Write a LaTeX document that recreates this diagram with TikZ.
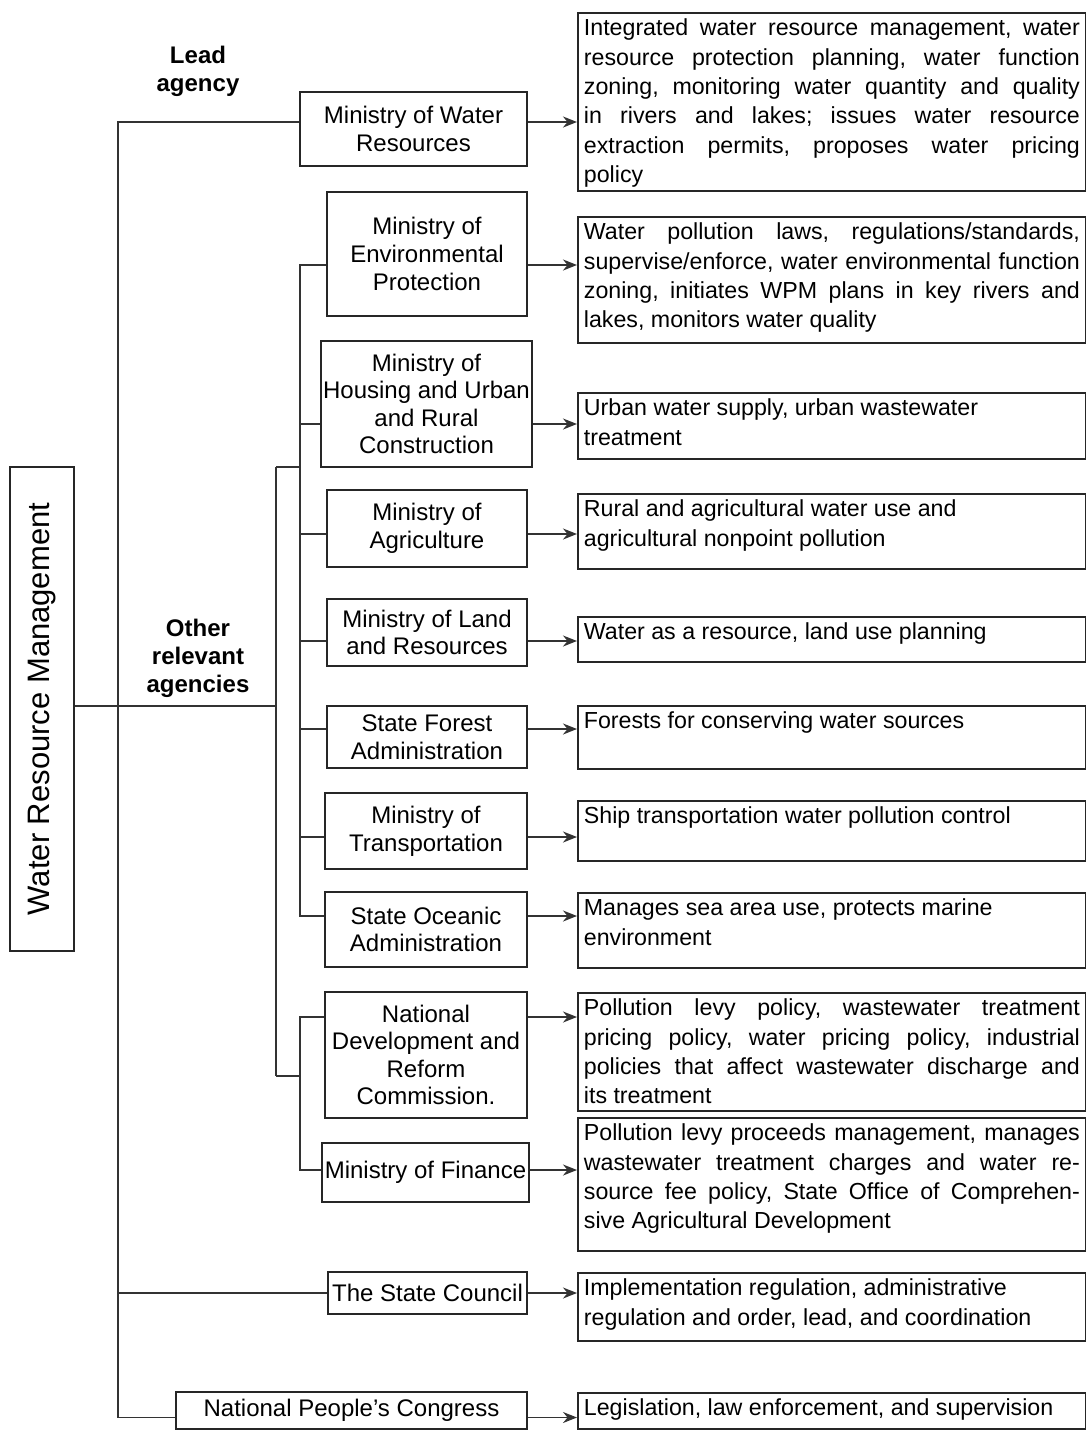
\documentclass[tikz,border=0pt]{standalone}
\usepackage{fontspec}
\setmainfont{Liberation Sans}
\usetikzlibrary{arrows.meta}
\frenchspacing
\tikzstyle{agency} = [rectangle, draw=black!85, line width=0.9pt, align=center, inner sep=1pt, font=\fontsize{12}{13.8}\selectfont]
\tikzstyle{duty} = [rectangle, draw=black!85, line width=0.9pt, anchor=north west, inner sep=3pt, font=\fontsize{11.6}{14.7}\selectfont]
\tikzstyle{group} = [draw=none, align=center, font=\fontsize{12}{14}\selectfont\bfseries]
\tikzstyle{link} = [draw=black!80, line width=0.9pt]
\newcommand{\dutytext}[2]{\parbox[t][#1][t]{248pt}{#2}}

\begin{document}
\begin{tikzpicture}[x=0.5pt,y=-0.5pt,>={Stealth[length=7pt,width=5.5pt]}]
  \useasboundingbox (0,0) rectangle (1086,1430);
  \node[agency, rotate=90, minimum width=242pt, minimum height=32pt, font=\fontsize{15.5}{18}\selectfont] (wrm) at (42,709) {Water Resource Management};
  \node[group] (lead) at (198,71) {Lead\\agency};
  \node[group] (other) at (198,658) {Other\\relevant\\agencies};

  % agencies
  \node[agency, minimum width=113.5pt, minimum height=37pt] (mwr) at (413.5,129) {Ministry of Water\\Resources};
  \node[agency, minimum width=100pt, minimum height=62pt] (mep) at (427,254) {Ministry of\\Environmental\\Protection};
  \node[agency, minimum width=104.5pt, minimum height=63pt] (mhurc) at (426.5,404) {Ministry of\\Housing and Urban\\and Rural\\Construction};
  \node[agency, minimum width=100pt, minimum height=38.5pt] (moa) at (427,528.5) {Ministry of\\Agriculture};
  \node[agency, minimum width=100pt, minimum height=33.5pt] (mlr) at (427,632.5) {Ministry of Land\\and Resources};
  \node[agency, minimum width=100pt, minimum height=31pt] (sfa) at (427,737) {State Forest\\Administration};
  \node[agency, minimum width=101pt, minimum height=38pt] (mot) at (426,831) {Ministry of\\Transportation};
  \node[agency, minimum width=101pt, minimum height=37.5pt] (soa) at (426,929.5) {State Oceanic\\Administration};
  \node[agency, minimum width=101pt, minimum height=63pt] (ndrc) at (426,1055) {National\\Development and\\Reform\\Commission.};
  \node[agency, minimum width=103.5pt, minimum height=29.5pt] (mof) at (425.5,1172.5) {Ministry of Finance};
  \node[agency, minimum width=99.5pt, minimum height=21pt] (tsc) at (427.5,1293) {The State Council};
  \node[agency, minimum width=175.5pt, minimum height=18.5pt] (npc) at (351.5,1410.5) {National People's Congress};

  % responsibilities
  \node[duty] (dmwr) at (577,12) {\dutytext{83pt}{Integrated water resource management, water\linebreak resource protection planning, water function\linebreak zoning, monitoring water quantity and quality\linebreak in rivers and lakes; issues water resource\linebreak extraction permits, proposes water pricing\linebreak policy}};
  \node[duty] (dmep) at (577,216) {\dutytext{57pt}{Water pollution laws, regulations/standards,\linebreak supervise/enforce, water environmental function\linebreak zoning, initiates WPM plans in key rivers and\linebreak lakes, monitors water quality}};
  \node[duty] (dmhurc) at (577,392) {\dutytext{27pt}{Urban water supply, urban wastewater\\treatment}};
  \node[duty] (dmoa) at (577,493) {\dutytext{31.5pt}{Rural and agricultural water use and\\agricultural nonpoint pollution}};
  \node[duty] (dmlr) at (577,616) {\dutytext{16.5pt}{Water as a resource, land use planning}};
  \node[duty] (dsfa) at (577,705) {\dutytext{25.5pt}{Forests for conserving water sources}};
  \node[duty] (dmot) at (577,800) {\dutytext{24pt}{Ship transportation water pollution control}};
  \node[duty] (dsoa) at (577,892) {\dutytext{31.5pt}{Manages sea area use, protects marine\\environment}};
  \node[duty] (dndrc) at (577,992) {\dutytext{53pt}{Pollution levy policy, wastewater treatment\linebreak pricing policy, water pricing policy, industrial\linebreak policies that affect wastewater discharge and\linebreak its treatment}};
  \node[duty] (dmof) at (577,1117) {\dutytext{60.5pt}{Pollution levy proceeds management, manages\linebreak wastewater treatment charges and water re-\linebreak source fee policy, State Office of Comprehen-\linebreak sive Agricultural Development}};
  \node[duty] (dtsc) at (577,1272) {\dutytext{28pt}{Implementation regulation, administrative\\regulation and order, lead, and coordination}};
  \node[duty] (dnpc) at (577,1392) {\dutytext{12pt}{Legislation, law enforcement, and supervision}};

  % branch points
  \coordinate (t0) at (118,706);
  \coordinate (s1) at (276,467);
  \coordinate (s2) at (276,1076);
  \coordinate (b1) at (300,467);
  \coordinate (b2) at (300,1076);

  \draw[link] (wrm.south |- t0) -- (t0 -| s1);
  \draw[link] (s1) -- (s2);
  \draw[link] (s1) -- (b1);
  \draw[link] (s2) -- (b2);
  \foreach \n/\p/\s in {mwr/t0/3.5, mep/b1/-5.5, mhurc/b1/-10, moa/b1/-2.75, mlr/b1/-4.25, sfa/b1/4, mot/b1/-3, soa/b1/6.75, ndrc/b2/19, mof/b2/1.25, tsc/t0/0, npc/t0/-3.5} {
    \draw[link] (\p) |- ([yshift=\s pt]\n.west);
    \draw[link, ->] ([yshift=\s pt]\n.east) -- ([yshift=\s pt]\n.east -| d\n.west);
  }
\end{tikzpicture}
\end{document}
